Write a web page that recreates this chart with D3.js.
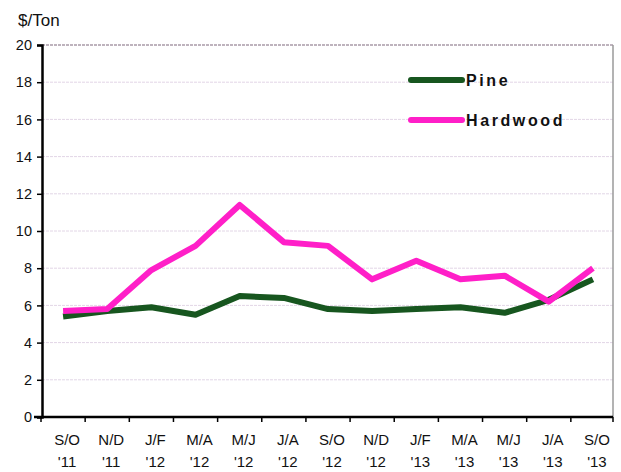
<!doctype html>
<html>
<head>
<meta charset="utf-8">
<title>Pine and Hardwood $/Ton</title>
<style>
  body { margin: 0; background: #fff; }
  text { font-family: Arial, "Liberation Sans", sans-serif; fill: #111; }
</style>
</head>
<body>
<svg width="621" height="472"></svg>
<script src="https://cdnjs.cloudflare.com/ajax/libs/d3/7.8.5/d3.min.js"></script>
<script>
var periods = ["S/O", "N/D", "J/F", "M/A", "M/J", "J/A", "S/O", "N/D", "J/F", "M/A", "M/J", "J/A", "S/O"];
var years   = ["'11", "'11", "'12", "'12", "'12", "'12", "'12", "'12", "'13", "'13", "'13", "'13", "'13"];
var pine     = [5.4, 5.7, 5.9, 5.5, 6.5, 6.4, 5.8, 5.7, 5.8, 5.9, 5.6, 6.3, 7.4];
var hardwood = [5.7, 5.8, 7.9, 9.2, 11.4, 9.4, 9.2, 7.4, 8.4, 7.4, 7.6, 6.2, 8.0];
var yTicks = [0, 2, 4, 6, 8, 10, 12, 14, 16, 18, 20];

var svg = d3.select("svg");
var plotLeft = 42, plotRight = 613, plotTop = 45, plotBottom = 417;
var idx = d3.range(periods.length);

var x = d3.scaleBand()
    .domain(idx)
    .range([plotLeft - 1, plotRight + 2]);

var y = d3.scaleLinear()
    .domain([0, 20])
    .range([plotBottom, plotTop]);

// gridlines
svg.selectAll(".grid")
  .data(yTicks.filter(function(d){ return d > 0; }))
  .enter()
  .append("line")
  .attr("x1", plotLeft)
  .attr("x2", plotRight)
  .attr("y1", function(d){ return y(d); })
  .attr("y2", function(d){ return y(d); })
  .style("stroke", function(d){ return d === 20 ? "#a99aa8" : "#e2d6e6"; })
  .style("stroke-width", function(d){ return d === 20 ? 1.5 : 1; })
  .style("stroke-dasharray", "3,1");

// right border
svg.append("line")
  .attr("x1", plotRight).attr("x2", plotRight)
  .attr("y1", plotTop).attr("y2", plotBottom)
  .style("stroke", "#9a9a9a")
  .style("stroke-width", 1.5);

// y axis
var yAxis = svg.append("g")
  .attr("transform", "translate(" + plotLeft + ",0)")
  .call(d3.axisLeft(y).tickValues(yTicks).tickSize(5).tickPadding(5));
yAxis.select(".domain").style("stroke", "#000").style("stroke-width", 2.5);
yAxis.selectAll(".tick line").style("stroke", "#000").style("stroke-width", 1.5);
yAxis.selectAll("text").style("font-size", "14.5px").style("fill", "#111")
  .attr("font-family", null);

// x axis with ticks at band edges
var xAxis = svg.append("g")
  .attr("transform", "translate(0," + plotBottom + ")");
xAxis.append("line")
  .attr("x1", plotLeft - 8).attr("x2", plotRight)
  .style("stroke", "#000")
  .style("stroke-width", 2.5);
xAxis.selectAll(".xtick")
  .data(d3.range(periods.length + 1))
  .enter()
  .append("line")
  .attr("x1", function(d){ return Math.min(plotRight, x.range()[0] + d * x.step()); })
  .attr("x2", function(d){ return Math.min(plotRight, x.range()[0] + d * x.step()); })
  .attr("y1", 0)
  .attr("y2", 5)
  .style("stroke", "#000")
  .style("stroke-width", 1.5);

var lbl = xAxis.selectAll(".xlabel")
  .data(idx)
  .enter()
  .append("text")
  .attr("text-anchor", "middle")
  .style("font-size", "15px");
lbl.append("tspan")
  .attr("x", function(d){ return x(d) + x.bandwidth() / 2 + 4; })
  .attr("y", 28)
  .text(function(d){ return periods[d]; });
lbl.append("tspan")
  .attr("x", function(d){ return x(d) + x.bandwidth() / 2 + 4; })
  .attr("y", 50)
  .text(function(d){ return years[d]; });

// unit label
svg.append("text")
  .attr("x", 18)
  .attr("y", 26)
  .style("font-size", "17px")
  .text("$/Ton");

var line = d3.line()
  .x(function(d, i){ return x(i) + x.bandwidth() / 2; })
  .y(function(d){ return y(d); });

svg.append("path")
  .datum(pine)
  .attr("d", line)
  .style("fill", "none")
  .style("stroke", "#17561f")
  .style("stroke-width", 6)
  .style("stroke-linejoin", "round");

svg.append("path")
  .datum(hardwood)
  .attr("d", line)
  .style("fill", "none")
  .style("stroke", "#ff1fc8")
  .style("stroke-width", 6)
  .style("stroke-linejoin", "round");

// legend
var legend = [["Pine", "#17561f", 80], ["Hardwood", "#ff1fc8", 120]];
legend.forEach(function(l){
  svg.append("line")
    .attr("x1", 411).attr("x2", 462)
    .attr("y1", l[2]).attr("y2", l[2])
    .style("stroke", l[1])
    .style("stroke-width", 6)
    .style("stroke-linecap", "round");
  svg.append("text")
    .attr("x", 466)
    .attr("y", l[2] + 6)
    .style("font-size", "16px")
    .style("font-weight", "bold")
    .style("letter-spacing", "2.6px")
    .text(l[0]);
});
</script>
</body>
</html>
